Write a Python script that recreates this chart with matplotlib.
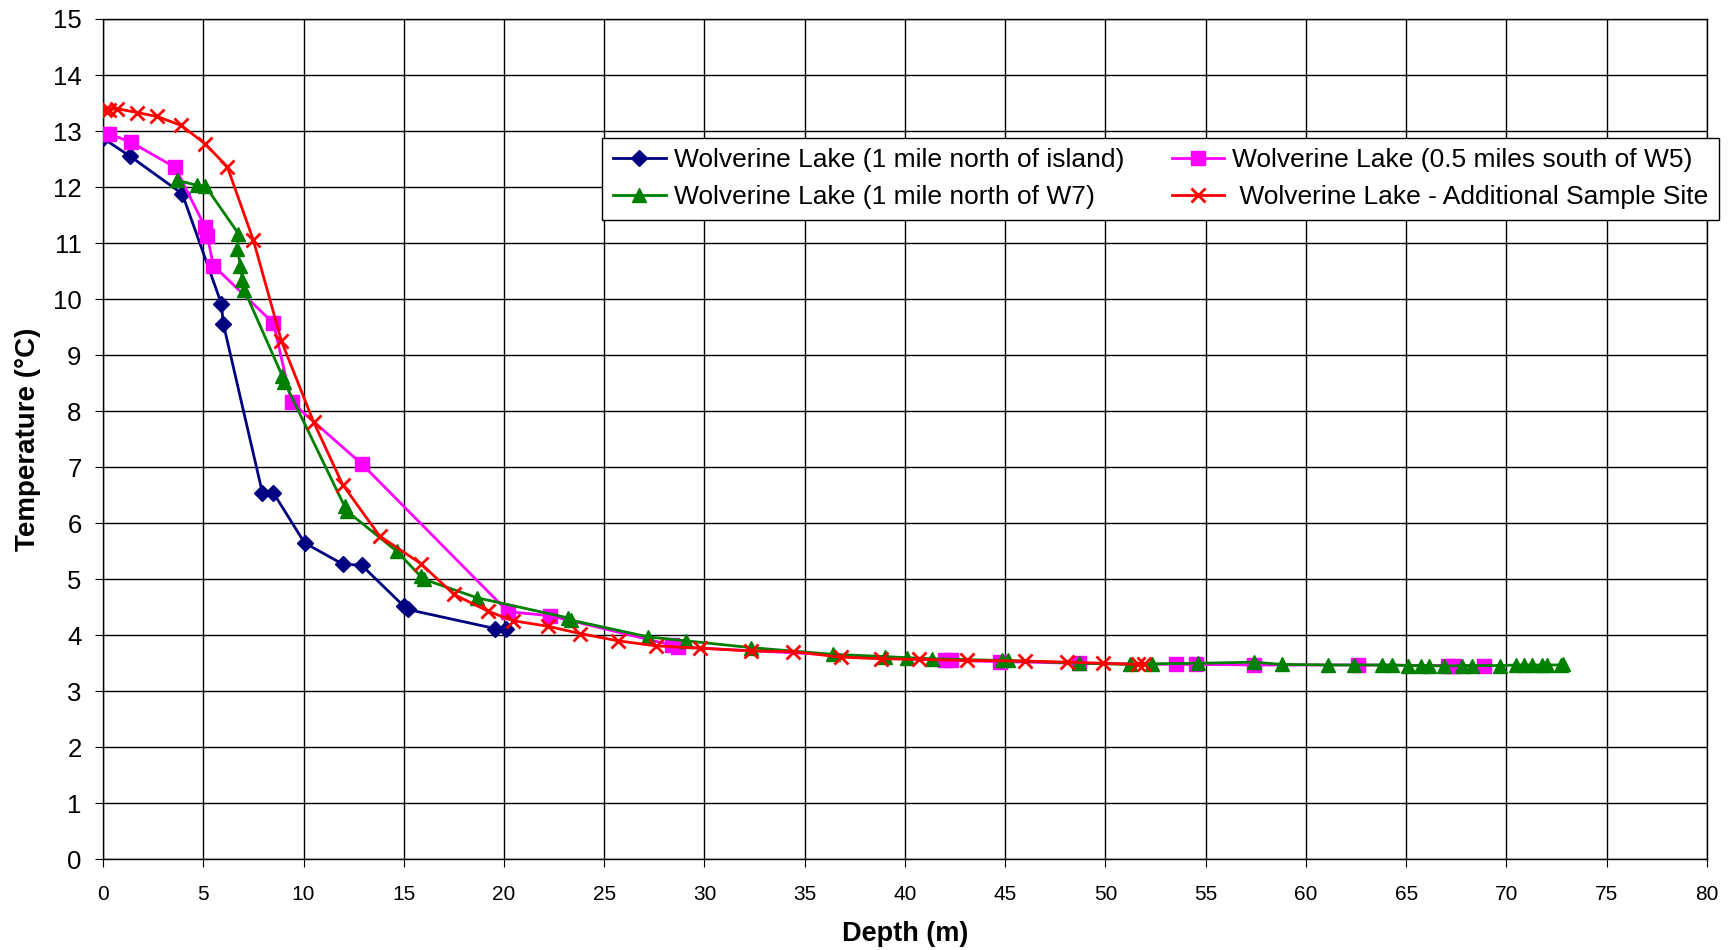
import numpy as np
from matplotlib import pyplot as plt

plt.rcParams['font.family'] = ['Liberation Sans', 'DejaVu Sans']

# Wolverine Lake (1 mile north of island)
blue_depth = [0.0, 1.35, 3.95, 5.9, 6.0, 7.95, 8.5, 10.05, 11.95, 12.9, 15.0, 15.2, 19.55, 20.1]
blue_temp = [12.87, 12.55, 11.88, 9.92, 9.56, 6.54, 6.54, 5.65, 5.27, 5.25, 4.52, 4.46, 4.12, 4.11]

# Wolverine Lake (0.5 miles south of W5)
pink_depth = [0.1, 0.3, 1.4, 3.6, 5.1, 5.2, 5.5, 8.5, 9.4, 12.9, 20.2, 22.3, 28.4, 28.7,
              42.0, 42.3, 44.75, 48.7, 53.5, 54.5, 57.4, 62.6, 67.1, 67.4, 68.9]
pink_temp = [12.95, 12.95, 12.8, 12.35, 11.28, 11.13, 10.6, 9.57, 8.16, 7.06, 4.42, 4.35, 3.82, 3.79,
             3.55, 3.55, 3.53, 3.5, 3.48, 3.48, 3.47, 3.47, 3.46, 3.46, 3.46]

# Wolverine Lake (1 mile north of W7)
green_depth = [3.7, 4.7, 5.1, 6.75, 6.7, 6.85, 6.95, 7.05, 8.95, 9.05, 12.05, 12.15, 14.65, 15.85, 16.0,
               18.65, 23.2, 23.35, 27.2, 29.1, 32.3, 36.4, 39.0, 40.1, 41.35, 44.85, 45.15, 48.7,
               51.2, 52.3, 54.6, 57.4, 58.8, 61.1, 62.4, 63.8, 64.3, 65.1, 65.75, 66.15, 66.9,
               67.8, 68.3, 69.7, 70.5, 70.9, 71.3, 71.8, 72.0, 72.7, 72.8]
green_temp = [12.12, 12.03, 12.02, 11.17, 10.9, 10.6, 10.34, 10.16, 8.62, 8.52, 6.3, 6.22, 5.5, 5.05, 5.0,
              4.67, 4.31, 4.27, 3.97, 3.9, 3.78, 3.66, 3.62, 3.6, 3.58, 3.55, 3.55, 3.5,
              3.48, 3.49, 3.5, 3.52, 3.48, 3.47, 3.47, 3.47, 3.47, 3.46, 3.46, 3.46, 3.45,
              3.46, 3.46, 3.46, 3.47, 3.47, 3.47, 3.47, 3.47, 3.47, 3.48]

# Wolverine Lake - Additional Sample Site
red_depth = [0.1, 0.3, 0.7, 1.7, 2.7, 3.9, 5.1, 6.2, 7.5, 8.9, 10.5, 11.95, 13.8, 15.85, 17.5,
             19.2, 20.45, 22.2, 23.8, 25.7, 27.6, 29.8, 32.3, 34.4, 36.8, 38.8, 40.7, 43.1,
             46.0, 48.1, 49.9, 51.6, 51.9]
red_temp = [13.38, 13.38, 13.4, 13.33, 13.26, 13.1, 12.77, 12.36, 11.05, 9.25, 7.81, 6.69, 5.77, 5.28, 4.73,
            4.43, 4.26, 4.16, 4.03, 3.9, 3.81, 3.77, 3.72, 3.71, 3.61, 3.58, 3.57, 3.55,
            3.54, 3.52, 3.5, 3.48, 3.48]

labels = ['Wolverine Lake (1 mile north of island)',
          'Wolverine Lake (0.5 miles south of W5)',
          'Wolverine Lake (1 mile north of W7)',
          ' Wolverine Lake - Additional Sample Site']

fig = plt.figure(figsize=(17.32, 9.5), dpi=100)
ax = fig.add_axes([0.0595, 0.0954, 0.926, 0.8846])

h1, = ax.plot(blue_depth, blue_temp, color='#000080', marker='D', markersize=8.5, lw=2, zorder=3)
h2, = ax.plot(pink_depth, pink_temp, color='#FF00FF', marker='s', markersize=10, lw=2, zorder=3)
h3, = ax.plot(green_depth, green_temp, color='#008000', marker='^', markersize=10, lw=2, zorder=3)
h4, = ax.plot(red_depth, red_temp, color='#FF0000', marker='x', markersize=10, mew=2, lw=2, zorder=4)

ax.set_xlim(0, 80)
ax.set_ylim(0, 15)
ax.set_xticks(range(0, 81, 5))
ax.set_yticks(range(0, 16))
ax.grid(True, color='black', lw=1)
ax.tick_params(direction='out', length=5.5, color='black')
ax.tick_params(axis='x', labelsize=15, pad=13)
ax.tick_params(axis='y', labelsize=18.5, pad=10)
for s in ax.spines.values():
    s.set_color('black')
    s.set_linewidth(1)

ax.set_xlabel('Depth (m)', fontsize=19.5, fontweight='bold', labelpad=12)
ax.set_ylabel('Temperature (\u00b0C)', fontsize=20, fontweight='bold', labelpad=8.5)

leg = ax.legend([h1, h3, h2, h4], [labels[0], labels[2], labels[1], labels[3]],
                ncol=2, loc='upper right', bbox_to_anchor=(1.0158, 0.8746),
                fontsize=19, fancybox=False, framealpha=1, edgecolor='black',
                handlelength=2.0, handletextpad=0.3, columnspacing=1.8,
                borderpad=0.4, labelspacing=0.5)
leg.get_frame().set_linewidth(1)

fig.savefig('out.png', dpi=100)
